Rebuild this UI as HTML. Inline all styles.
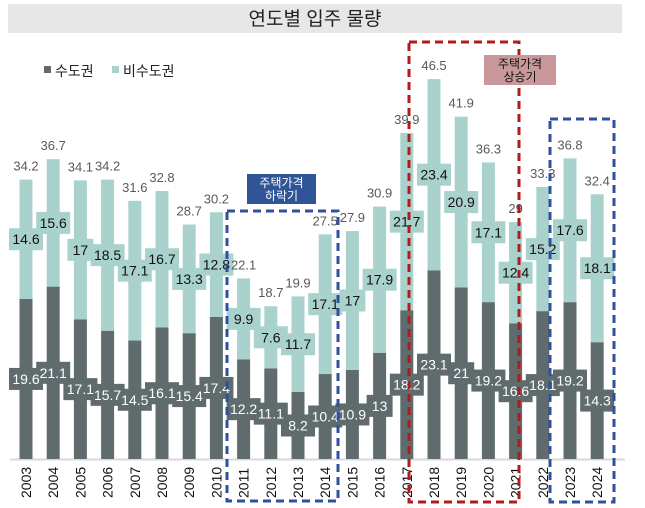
<!DOCTYPE html>
<html><head><meta charset="utf-8"><style>
body{margin:0;background:#fff;font-family:"Liberation Sans","Noto Sans CJK KR",sans-serif}
svg{display:block}
</style></head><body>
<svg id="c" width="645" height="508" xmlns="http://www.w3.org/2000/svg">
<rect x="8" y="4" width="614" height="29" fill="#e7e7e7"/>
<text x="315" y="25" font-size="19" text-anchor="middle" fill="#222" font-family="Liberation Sans, Noto Sans CJK KR, sans-serif">연도별 입주 물량</text>
<g>
<rect x="44" y="66" width="7" height="7" fill="#5f6b6d"/>
<text x="55" y="76" font-size="14" fill="#222">수도권</text>
<rect x="112" y="66" width="7" height="7" fill="#a9d2cc"/>
<text x="123" y="76" font-size="14" fill="#222">비수도권</text>
</g>
<line x1="10" y1="459.5" x2="625" y2="459.5" stroke="#d9d9d9" stroke-width="2"/>
<g id="bars"></g>
<g id="boxes"></g>
<g id="texts"></g>
<rect x="227" y="211" width="111" height="290" fill="none" stroke="#2f4f9f" stroke-width="3" stroke-dasharray="8,5"/>
<rect x="409" y="42" width="110" height="460" fill="none" stroke="#b01c1c" stroke-width="3" stroke-dasharray="8,5"/>
<rect x="550" y="119" width="64" height="383" fill="none" stroke="#2f4f9f" stroke-width="3" stroke-dasharray="8,5"/>
<g>
<rect x="247" y="174" width="69" height="30" fill="#2f5597"/>
<text x="281.5" y="187" font-size="12" fill="#fff" text-anchor="middle">주택가격</text>
<text x="281.5" y="200" font-size="12" fill="#fff" text-anchor="middle">하락기</text>
</g>
<g>
<rect x="484" y="55" width="72" height="30" fill="#c9989a"/>
<text x="520" y="68" font-size="12" fill="#111" text-anchor="middle">주택가격</text>
<text x="520" y="81" font-size="12" fill="#111" text-anchor="middle">상승기</text>
</g>
</svg>
<script>
const years=["2003","2004","2005","2006","2007","2008","2009","2010","2011","2012","2013","2014","2015","2016","2017","2018","2019","2020","2021","2022","2023","2024"];
const capital=[19.6,21.1,17.1,15.7,14.5,16.1,15.4,17.4,12.2,11.1,8.2,10.4,10.9,13,18.2,23.1,21,19.2,16.6,18.1,19.2,14.3];
const nonCapital=[14.6,15.6,17,18.5,17.1,16.7,13.3,12.8,9.9,7.6,11.7,17.1,17,17.9,21.7,23.4,20.9,17.1,12.4,15.2,17.6,18.1];
const totals=[34.2,36.7,34.1,34.2,31.6,32.8,28.7,30.2,22.1,18.7,19.9,27.5,27.9,30.9,39.9,46.5,41.9,36.3,29,33.3,36.8,32.4];

const NS="http://www.w3.org/2000/svg";
const g=document.getElementById('bars');
const gb=document.getElementById('boxes');
const gt=document.getElementById('texts');
const base=459, k=8.17, x0=26, step=27.2, bw=13;
const xs=i=>x0+i*step;
const ys=v=>base-v*k;
function mk(tag,attrs,parent){const e=document.createElementNS(NS,tag);for(const a in attrs)e.setAttribute(a,attrs[a]);(parent||g).appendChild(e);return e;}
const labels=[];
years.forEach((y,i)=>{
  const cx=xs(i);
  const r1=mk('rect',{x:cx-bw/2,y:ys(capital[i]),width:bw,height:base-ys(capital[i]),fill:'#5f6b6d'});
  
  
  const top=capital[i]+nonCapital[i];
  const r2=mk('rect',{x:cx-bw/2,y:ys(top),width:bw,height:ys(capital[i])-ys(top),fill:'#a9d2cc'});
  
  
  labels.push([cx,(base+ys(capital[i]))/2,capital[i],'#5f6b6d','#fff','label-capital-'+y]);
  labels.push([cx,(ys(capital[i])+ys(top))/2,nonCapital[i],'#a9d2cc','#111','label-noncapital-'+y]);
  const t=mk('text',{x:cx,y:ys(top)-9,'font-size':13,'text-anchor':'middle',fill:'#595959'},gt);
  t.textContent=totals[i];
  
  
  const yl=mk('text',{x:0,y:0,'font-size':14,'text-anchor':'start',fill:'#111',transform:`translate(${cx+5},498) rotate(-90)`},gt);
  yl.textContent=y;
  
  
});
labels.forEach(l=>{
  const w=String(l[2]).length>2?34:26;
  const b=mk('rect',{x:l[0]-w/2,y:l[1]-11,width:w,height:22,fill:l[3]},gb);
  
  
  const t=mk('text',{x:l[0],y:l[1]+5,'font-size':14,'text-anchor':'middle',fill:l[4]},gt);
  t.textContent=l[2];
  
  
});
</script>
</body></html>
